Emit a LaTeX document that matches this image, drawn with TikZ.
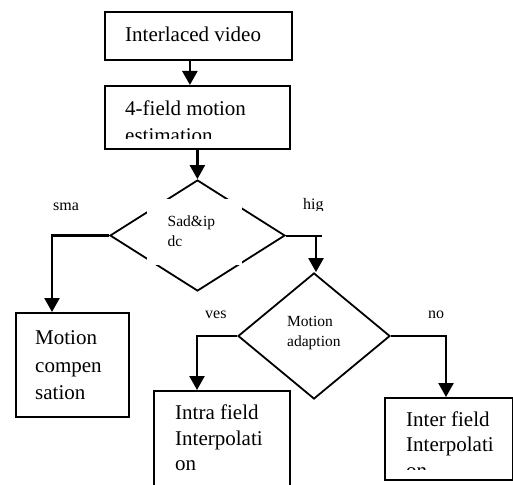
\documentclass[tikz,border=0pt]{standalone}
\usepackage{fontspec}
\setmainfont{Liberation Serif}
\usetikzlibrary{shapes.geometric,arrows.meta}
\begin{document}
\begin{tikzpicture}[x=1pt,y=-1pt,
 boxst/.style={draw,line width=1.8pt,rectangle,inner sep=0,anchor=north west},
 dia/.style={draw,line width=1.8pt,diamond,inner sep=0},
 arr/.style={line width=2.4pt,-{Triangle[length=14pt,width=15pt]}},
 ln/.style={line width=2pt},
 bigt/.style={anchor=base west,inner sep=0,font=\fontsize{21}{27}\selectfont},
 smt/.style={anchor=base west,inner sep=0,font=\fontsize{15.5}{20}\selectfont},
 lab/.style={anchor=base west,inner sep=0,font=\fontsize{16}{20}\selectfont}]
\clip (0,0) rectangle (513,484);
\fill[white] (0,0) rectangle (513,484);
% boxes
\node[boxst,minimum width=187pt,minimum height=48pt] (iv) at (104,11) {};
\node[boxst,minimum width=185pt,minimum height=63pt] (me) at (104,85) {};
\node[boxst,minimum width=113pt,minimum height=104pt] (mc) at (15,312) {};
\node[boxst,minimum width=136pt,minimum height=110pt] (ia) at (153,390) {};
\node[boxst,minimum width=128pt,minimum height=82pt] (ie) at (384,397) {};
% diamonds
\node[dia,minimum width=175pt,minimum height=111pt] (d1) at (197.5,235.5) {};
\fill[white] (147,199) rectangle (242,265);
\node[dia,minimum width=152pt,minimum height=126pt] (d2) at (314,336) {};
% texts
\node[bigt] (t1) at (125,41.5) {Interlaced video};
\node[bigt] (t2) at (125,115) {4-field motion};
\begin{scope}
\clip (104,85) rectangle (289,138.5);
\node[bigt] (t2b) at (125,142) {estimation};
\end{scope}
\node[smt] (t3) at (167.5,226.5) {Sad\&ip};
\node[smt] (t3b) at (167.5,246.5) {dc};
\node[lab] (ls) at (53,210) {sma};
\begin{scope}
\clip (290,190) rectangle (340,210.5);
\node[lab] (lh) at (303,209) {hig};
\end{scope}
\node[lab] (ly) at (205,318) {ves};
\node[lab] (ln) at (428,318) {no};
\node[smt] (t4) at (287,326.7) {Motion};
\node[smt] (t4b) at (287,346.5) {adaption};
\node[bigt] (t5) at (35,344) {Motion};
\node[bigt] (t5b) at (35,372) {compen};
\node[bigt] (t5c) at (35,399) {sation};
\node[bigt] (t6) at (175,419.5) {Intra field};
\node[bigt] (t6b) at (175,445) {Interpolati};
\node[bigt] (t6c) at (175,470.5) {on};
\node[bigt] (t7) at (406,426.7) {Inter field};
\node[bigt] (t7b) at (406,451.7) {Interpolati};
\begin{scope}
\clip (384,397) rectangle (512,469.5);
\node[bigt] (t7c) at (406,477) {on};
\end{scope}
% connectors
\coordinate (b1) at (52,235.5);
\coordinate (b2) at (322,235.5);
\coordinate (b3) at (316,237);
\coordinate (b4) at (197,336);
\coordinate (b5) at (446,336);
\draw[arr] ([xshift=-8.5pt]iv.south) -- ([xshift=-7.5pt]me.north);
\draw[arr] (me.south) -- (me.south |- d1.north);
\draw[arr] (d1.west) -- (b1) -- (b1 |- mc.north);
\draw[ln] (d1.east) -- (b2);
\draw[arr] (b3) -- (b3 |- d2.north);
\draw[arr] (d2.west) -- (b4) -- (b4 |- ia.north);
\draw[arr] (d2.east) -- (b5) -- (b5 |- ie.north);
\end{tikzpicture}
\end{document}
